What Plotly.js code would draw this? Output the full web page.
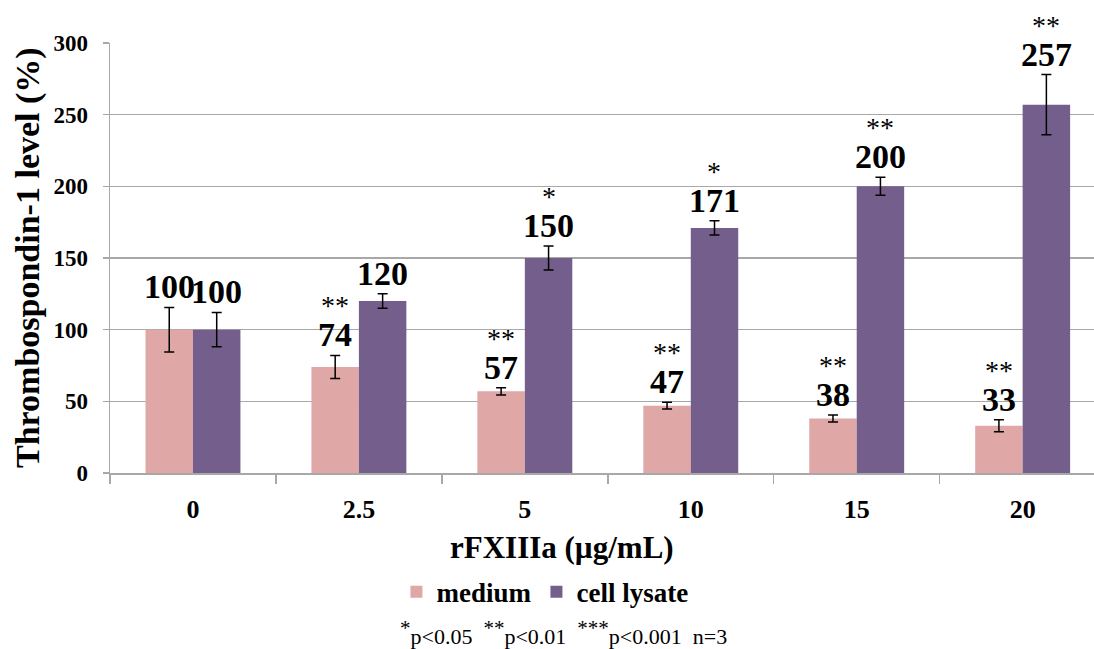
<!DOCTYPE html>
<html>
<head>
<meta charset="utf-8">
<script src="https://cdn.plot.ly/plotly-3.0.1.min.js"></script>
<style>html,body{margin:0;padding:0;background:#fff;}#chart{width:1094px;height:649px;}</style>
</head>
<body>
<div id="chart"></div>
<script>
const categories = ["0", "2.5", "5", "10", "15", "20"];
const mediumValues = [100, 74, 57, 47, 38, 33];
const mediumErrors = [15.5, 8, 2.5, 2.3, 2.5, 4.2];
const lysateValues = [100, 120, 150, 171, 200, 257];
const lysateErrors = [12, 5, 8.3, 5, 6.3, 21];
const mediumStars = ["", "**", "**", "**", "**", "**"];
const lysateStars = ["", "", "*", "*", "**", "**"];
const seriesNames = ["medium", "cell lysate"];
const star = s => "<sup><span style='font-size:21px'>" + s + "</span></sup>";
const footnote = star("*") + "p&lt;0.05&nbsp;&nbsp;" + star("**") + "p&lt;0.01&nbsp;&nbsp;" + star("***") + "p&lt;0.001&nbsp;&nbsp;n=3";

const serif = "Liberation Serif, Times New Roman, serif";
const pink = "#dfa7a6";
const purple = "#745f8c";
const gridGray = "#a8a8a8";

const traces = [
  {
    type: "bar", name: seriesNames[0], x: categories, y: mediumValues,
    marker: {color: pink},
    error_y: {type: "data", array: mediumErrors, visible: true, color: "#000", thickness: 1.5, width: 5}
  },
  {
    type: "bar", name: seriesNames[1], x: categories, y: lysateValues,
    marker: {color: purple},
    error_y: {type: "data", array: lysateErrors, visible: true, color: "#000", thickness: 1.5, width: 5}
  }
];

const halfBar = 23.7;
const annotations = [];
categories.forEach((c, i) => {
  [[mediumValues, mediumErrors, mediumStars, -halfBar], [lysateValues, lysateErrors, lysateStars, halfBar]].forEach(([vals, errs, stars, shift]) => {
    annotations.push({
      x: i, y: vals[i] + errs[i], xref: "x", yref: "y", xshift: shift, yshift: 0,
      text: String(vals[i]), showarrow: false, yanchor: "bottom", xanchor: "center",
      font: {family: serif, size: 34, weight: 700, color: "#000"}
    });
    if (stars[i]) {
      annotations.push({
        x: i, y: vals[i] + errs[i], xref: "x", yref: "y", xshift: shift, yshift: 32,
        text: stars[i], showarrow: false, yanchor: "bottom", xanchor: "center",
        font: {family: serif, size: 28, color: "#000"}
      });
    }
  });
});

annotations.push({
  xref: "paper", yref: "paper", x: 0, y: 0.5, xshift: -82, textangle: -90,
  xanchor: "center", yanchor: "middle", showarrow: false,
  text: "Thrombospondin-1 level (%)",
  font: {family: serif, size: 34, weight: 700, color: "#000"}
});
annotations.push({
  xref: "paper", yref: "paper", x: 0.459, y: -0.174,
  xanchor: "center", yanchor: "middle", showarrow: false,
  text: "rFXIIIa (µg/mL)",
  font: {family: serif, size: 31, weight: 700, color: "#000"}
});
annotations.push({
  xref: "paper", yref: "paper", x: 0.461, y: -0.372,
  xanchor: "center", yanchor: "middle", showarrow: false,
  text: footnote,
  font: {family: serif, size: 22, color: "#000"}
});

const layout = {
  width: 1094, height: 649,
  margin: {l: 110, r: 0, t: 43, b: 176},
  paper_bgcolor: "#fff", plot_bgcolor: "#fff",
  barmode: "group", bargap: 0.428, bargroupgap: 0,
  showlegend: true,
  legend: {
    orientation: "h", x: 0.442, xanchor: "center", y: -0.277, yanchor: "middle",
    font: {family: serif, size: 27, weight: 700, color: "#000"}, itemwidth: 30, tracegroupgap: 0
  },
  xaxis: {
    type: "category", range: [-0.5, 5.43],
    showgrid: false, showline: true, linecolor: gridGray, linewidth: 1.5,
    ticks: "outside", tickson: "boundaries", ticklen: 9, tickcolor: gridGray, tickwidth: 1.5,
    tickfont: {family: serif, size: 26, weight: 700, color: "#000"},
    ticklabelstandoff: 12
  },
  yaxis: {
    range: [0, 300], dtick: 50, tick0: 0,
    showgrid: true, gridcolor: gridGray, gridwidth: 1.5,
    zeroline: false, showline: true, linecolor: gridGray, linewidth: 1.5,
    ticks: "outside", ticklen: 6, tickcolor: gridGray, tickwidth: 1.5,
    tickfont: {family: serif, size: 23, weight: 700, color: "#000"},
    ticklabelstandoff: 10
  },
  annotations: annotations
};

Plotly.newPlot("chart", traces, layout, {displayModeBar: false, staticPlot: true});
</script>
</body>
</html>
